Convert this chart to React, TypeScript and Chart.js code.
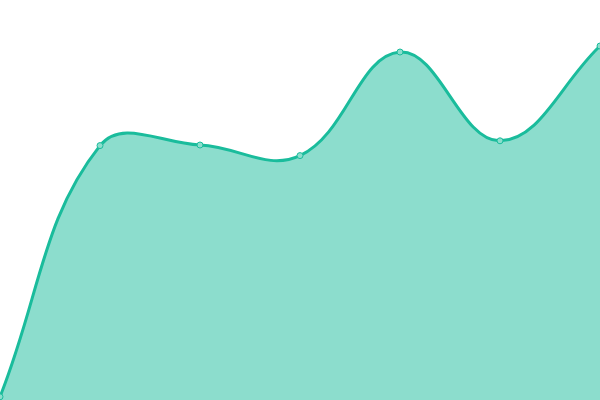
import { useEffect, useRef } from "react";
import { Chart, registerables } from "chart.js";

Chart.register(...registerables);

const labels = ["1", "2", "3", "4", "5", "6", "7"];
const values = [0.8, 63.6, 63.75, 61.1, 87, 64.8, 88.5];

const LINE = "#1abc9c";
const FILL = "rgba(26, 188, 156, 0.5)";
const POINT_FILL = "#8cdecd";

export default function App() {
  const canvasRef = useRef<HTMLCanvasElement>(null);

  useEffect(() => {
    if (!canvasRef.current) return;
    const chart = new Chart(canvasRef.current, {
      type: "line",
      data: {
        labels,
        datasets: [
          {
            data: values,
            borderColor: LINE,
            borderWidth: 3,
            backgroundColor: FILL,
            fill: true,
            tension: 0.4,
            pointRadius: 3,
            pointBorderWidth: 1,
            pointBorderColor: LINE,
            pointBackgroundColor: POINT_FILL,
          },
        ],
      },
      options: {
        responsive: false,
        animation: false,
        layout: { padding: 0, autoPadding: false },
        scales: {
          x: { display: false },
          y: { display: false, min: 0, max: 100 },
        },
        plugins: {
          legend: { display: false },
          tooltip: { enabled: false },
        },
      },
    });
    return () => chart.destroy();
  }, []);

  return (
    <div style={{ position: "absolute", left: 0, top: 0, width: 600, height: 400 }}>
      <canvas ref={canvasRef} width={600} height={400} />
    </div>
  );
}
